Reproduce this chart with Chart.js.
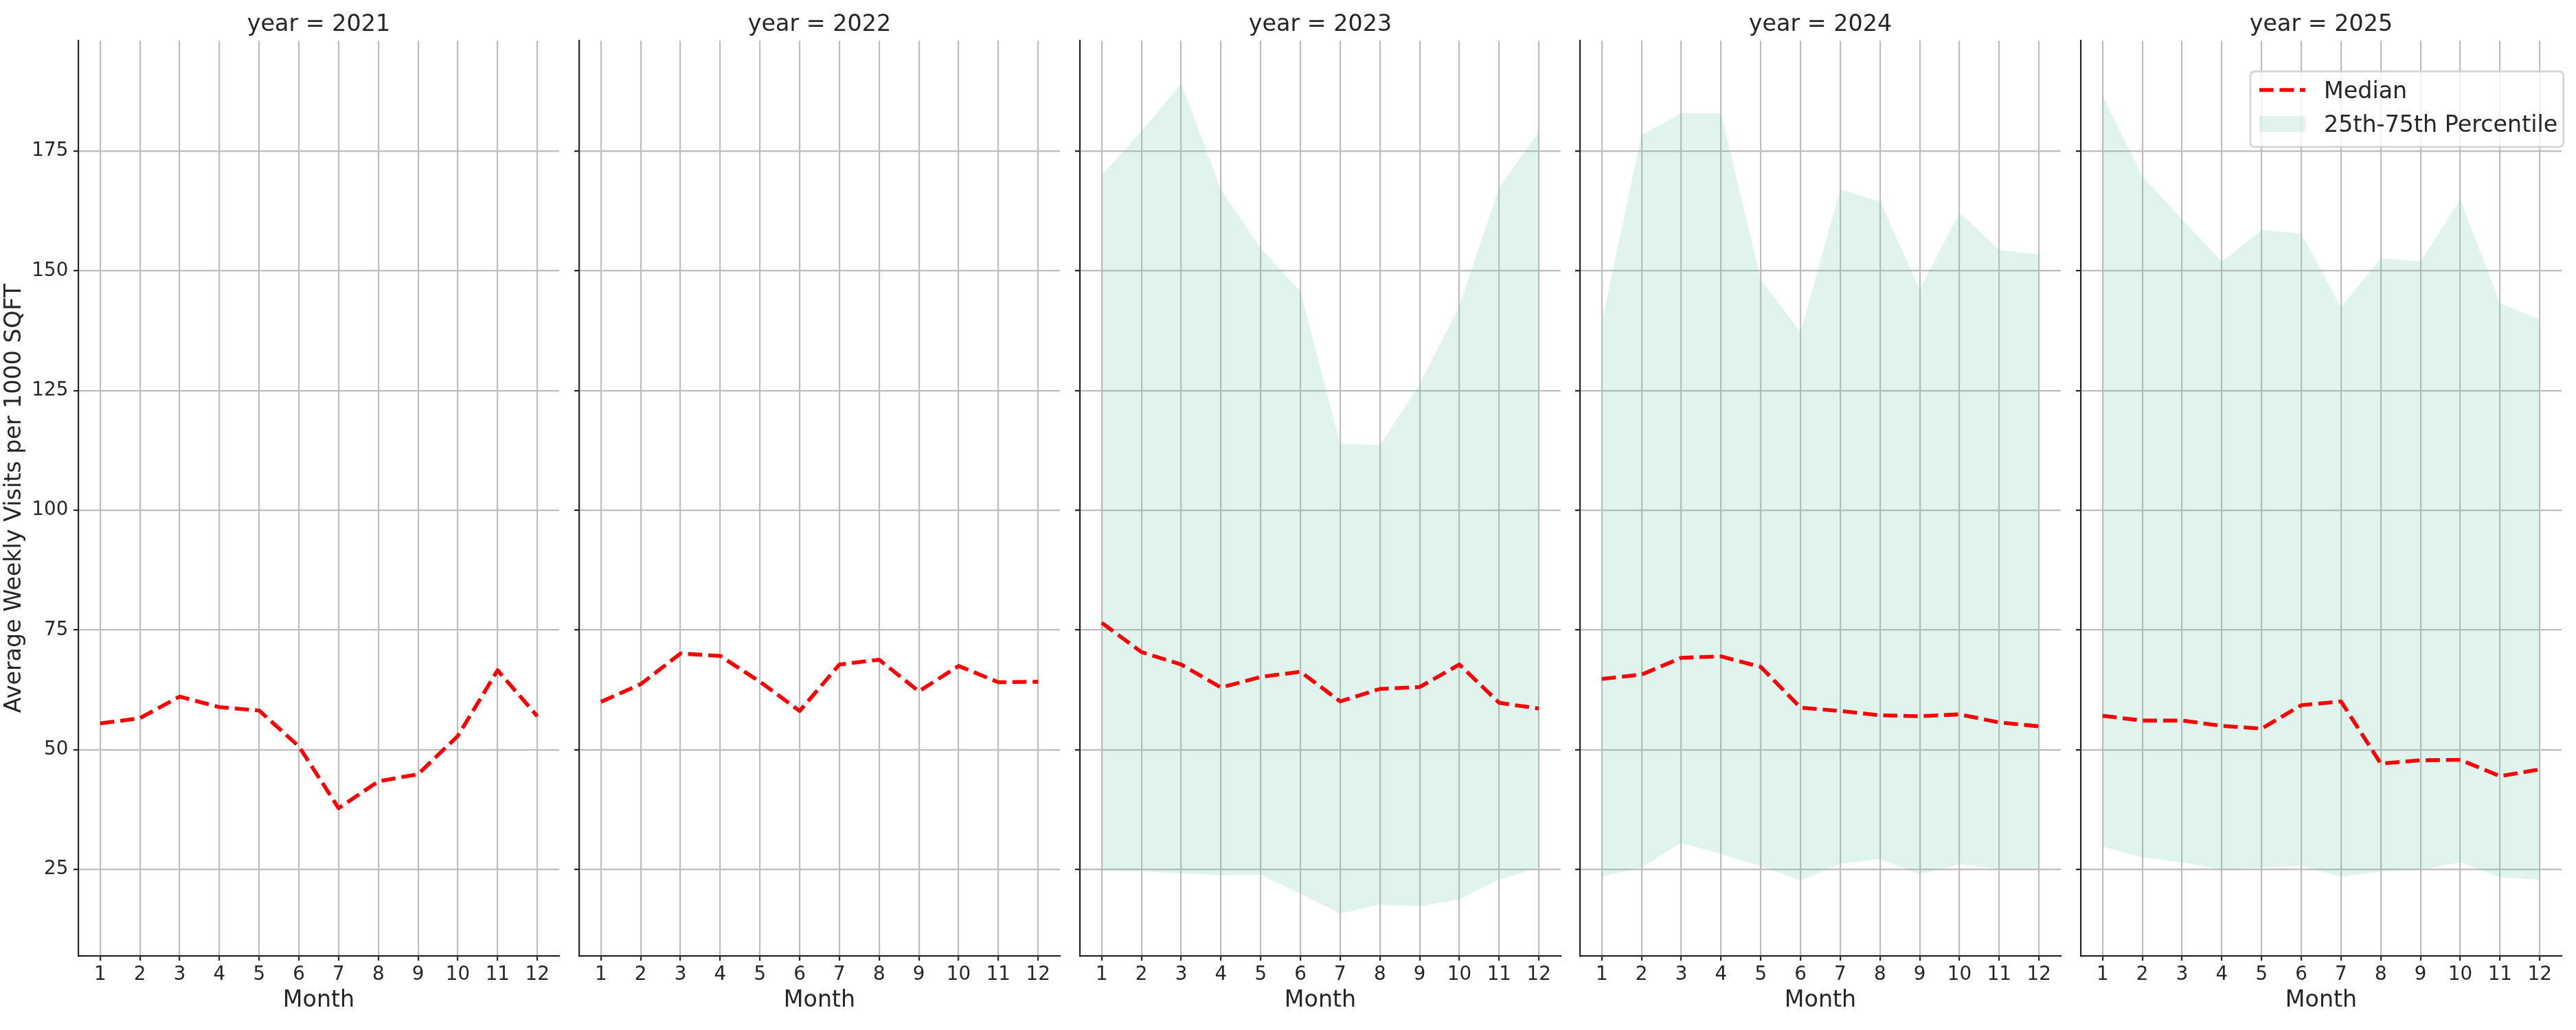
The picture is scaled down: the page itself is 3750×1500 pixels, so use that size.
<!DOCTYPE html>
<html>
<head>
<meta charset="utf-8">
<script src="https://cdn.jsdelivr.net/npm/chart.js@4.4.1/dist/chart.umd.min.js"></script>
<style>
html,body{margin:0;padding:0;background:#ffffff;width:3750px;height:1500px;overflow:hidden;position:relative;}
canvas{position:absolute;top:0;}
</style>
</head>
<body>
<script>
// ---------------- data ----------------
const months = [1,2,3,4,5,6,7,8,9,10,11,12];
const years = ['2021','2022','2023','2024','2025'];
const yTicks = [25,50,75,100,125,150,175];

const median2021 = [55.5,56.6,61.1,58.9,58.2,50.7,37.8,43.4,44.9,52.9,66.6,57.0];
const median2022 = [60.0,63.7,70.1,69.6,64.2,58.1,67.8,68.8,62.2,67.5,64.1,64.2];
const median2023 = [76.5,70.4,67.8,63.0,65.2,66.3,60.1,62.7,63.1,67.8,59.8,58.6];
const p75_2023   = [170.0,179.1,189.1,167.0,154.7,145.7,113.9,113.6,126.3,142.7,167.4,179.1];
const p25_2023   = [24.7,24.6,24.2,23.8,23.9,19.9,15.8,17.7,17.3,18.8,22.9,25.4];
const median2024 = [64.8,65.7,69.2,69.5,67.3,58.8,58.1,57.2,57.0,57.4,55.7,54.9];
const p75_2024   = [139.3,178.4,182.9,182.9,148.2,137.2,167.0,164.5,146.1,162.1,154.4,153.4];
const p25_2024   = [23.6,25.4,30.6,28.2,25.7,22.7,26.2,27.2,24.0,26.1,25.1,25.1];
const median2025 = [57.1,56.1,56.1,55.0,54.4,59.3,60.1,47.1,47.8,47.9,44.5,45.9];
const p75_2025   = [186.6,169.7,160.8,151.9,158.5,157.8,142.4,152.6,151.9,164.9,143.3,139.8];
const p25_2025   = [29.8,27.5,26.5,25.0,25.4,25.8,23.5,24.6,24.9,26.5,23.4,22.9];

const medianLabel = 'Median';
const bandLabel = '25th-75th Percentile';
const xTitle = 'Month';
const yTitle = 'Average Weekly Visits per 1000 SQFT';

const panels = [
  {year: years[0], median: median2021, p25: null,     p75: null},
  {year: years[1], median: median2022, p25: null,     p75: null},
  {year: years[2], median: median2023, p25: p25_2023, p75: p75_2023},
  {year: years[3], median: median2024, p25: p25_2024, p75: p75_2024},
  {year: years[4], median: median2025, p25: p25_2025, p75: p75_2025}
];

// ---------------- style / layout ----------------
const FONT = 'DejaVu Sans';
const TXT = '#262626';
const GRID = '#bdbdbd';
const BAND = 'rgba(102,194,165,0.2)';
const canvasLefts = [0, 729, 1458, 2186, 2915];
const CW = 830, CH = 1500;

function pts(arr){ return months.map((m,i)=>({x:m, y:arr[i]})); }

const mplLegend = {
  id: 'mplLegend',
  afterDraw(chart, args, opts) {
    if (!opts.show) return;
    const ctx = chart.ctx;
    const ca = chart.chartArea;
    const ds = chart.data.datasets;
    const bx = ca.left + 247, by = ca.top + 44.7, bw = 455.7, bh = 110, r = 7;
    ctx.save();
    ctx.beginPath();
    ctx.moveTo(bx + r, by);
    ctx.lineTo(bx + bw - r, by);
    ctx.quadraticCurveTo(bx + bw, by, bx + bw, by + r);
    ctx.lineTo(bx + bw, by + bh - r);
    ctx.quadraticCurveTo(bx + bw, by + bh, bx + bw - r, by + bh);
    ctx.lineTo(bx + r, by + bh);
    ctx.quadraticCurveTo(bx, by + bh, bx, by + bh - r);
    ctx.lineTo(bx, by + r);
    ctx.quadraticCurveTo(bx, by, bx + r, by);
    ctx.closePath();
    ctx.fillStyle = 'rgba(255,255,255,0.8)';
    ctx.fill();
    ctx.strokeStyle = 'rgba(204,204,204,0.8)';
    ctx.lineWidth = 2.8;
    ctx.stroke();
    // median handle
    const hx = bx + 13, hw = 67;
    ctx.beginPath();
    ctx.setLineDash(ds[0].borderDash);
    ctx.lineCap = 'butt';
    ctx.strokeStyle = ds[0].borderColor;
    ctx.lineWidth = ds[0].borderWidth;
    ctx.moveTo(hx, by + 27);
    ctx.lineTo(hx + hw, by + 27);
    ctx.stroke();
    ctx.setLineDash([]);
    // band handle
    ctx.fillStyle = ds[1].backgroundColor;
    ctx.fillRect(hx, by + 65, hw, 23);
    // texts
    ctx.fillStyle = TXT;
    ctx.font = '33.33px "' + FONT + '"';
    ctx.textBaseline = 'alphabetic';
    ctx.textAlign = 'left';
    ctx.fillText(ds[0].label, bx + 107, by + 38.7);
    ctx.fillText(ds[1].label, bx + 107, by + 87.7);
    ctx.restore();
  }
};

panels.forEach((p, idx) => {
  const c = document.createElement('canvas');
  c.width = CW; c.height = CH;
  c.style.left = canvasLefts[idx] + 'px';
  c.style.width = CW + 'px'; c.style.height = CH + 'px';
  document.body.appendChild(c);

  const datasets = [{
    label: medianLabel,
    data: pts(p.median),
    borderColor: '#ff0000',
    borderWidth: 5.56,
    borderDash: [20.6, 8.9],
    borderJoinStyle: 'round',
    borderCapStyle: 'butt',
    pointRadius: 0,
    fill: false,
    tension: 0
  }];
  if (p.p75) {
    datasets.push({
      label: bandLabel,
      data: pts(p.p75),
      borderColor: 'rgba(0,0,0,0)',
      borderWidth: 0,
      backgroundColor: BAND,
      fill: '+1',
      pointRadius: 0,
      tension: 0
    });
    datasets.push({
      label: '25th',
      data: pts(p.p25),
      borderColor: 'rgba(0,0,0,0)',
      borderWidth: 0,
      backgroundColor: 'rgba(0,0,0,0)',
      fill: false,
      pointRadius: 0,
      tension: 0
    });
  }

  const gridOpts = {color: GRID, lineWidth: 2.2, drawTicks: true, tickLength: 7, tickColor: TXT, tickWidth: 2.2};
  const borderOpts = {display: true, color: TXT, width: 2.2};

  new Chart(c, {
    type: 'line',
    data: {datasets},
    options: {
      responsive: false,
      animation: false,
      devicePixelRatio: 1,
      layout: {padding: {left: 0, right: 16, top: 0, bottom: 0}},
      plugins: {
        legend: {display: false},
        tooltip: {enabled: false},
        title: {
          display: true,
          text: 'year = ' + p.year,
          fullSize: false,
          color: TXT,
          font: {family: FONT, size: 33.33, weight: 'normal', lineHeight: 1.2},
          padding: {top: 16.8, bottom: 2.5}
        },
        mplLegend: {show: idx === panels.length - 1}
      },
      scales: {
        x: {
          type: 'linear',
          min: 0.45, max: 12.55,
          afterBuildTicks: s => { s.ticks = months.map(v => ({value: v})); },
          afterFit: s => { s.height = 108; },
          grid: gridOpts,
          border: borderOpts,
          ticks: {color: TXT, font: {family: FONT, size: 27.78, lineHeight: 1.2}, padding: 3.7, maxRotation: 0, autoSkip: false},
          title: {display: true, text: xTitle, color: TXT, font: {family: FONT, size: 33.33, lineHeight: 1.2}, padding: {top: 0, bottom: 22.2}}
        },
        y: {
          type: 'linear',
          min: 6.97, max: 198.06,
          afterBuildTicks: s => { s.ticks = yTicks.map(v => ({value: v})); },
          afterFit: s => { s.width = 114; },
          grid: gridOpts,
          border: borderOpts,
          ticks: {display: idx === 0, color: TXT, font: {family: FONT, size: 27.78, lineHeight: 1.2}, padding: 7.7},
          title: {display: idx === 0, text: yTitle, color: TXT, font: {family: FONT, size: 33.33, lineHeight: 1.2}, padding: {top: 1, bottom: 0}}
        }
      }
    },
    plugins: [mplLegend]
  });
});
</script>
</body>
</html>
